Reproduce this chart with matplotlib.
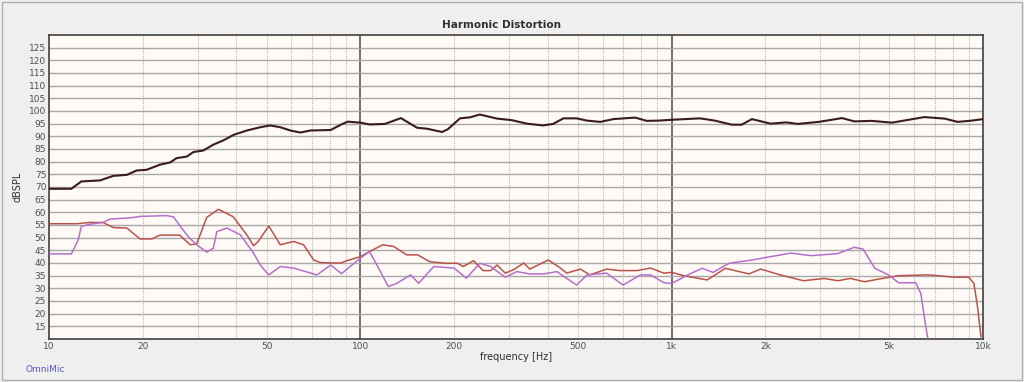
import matplotlib
matplotlib.use('Agg')
import matplotlib.pyplot as plt
from matplotlib.ticker import FixedLocator, NullFormatter, NullLocator
from matplotlib.patches import Rectangle

# fundamental
fund_f = [10, 11.8, 12.7, 14.6, 14.9, 16.1, 17.8, 19.1, 20.6, 22.7, 24.5, 25.7, 27.7,
          29.1, 31.3, 33.7, 36.3, 39.2, 43.2, 47.7, 51.3, 55.3, 59.6, 64.2, 69.1, 80.3,
          86.6, 91, 100, 107, 120, 135, 152, 164, 183, 191, 209, 225, 242, 275, 306,
          343, 386, 416, 449, 495, 535, 590, 650, 763, 832, 906, 990, 1233, 1376, 1560,
          1678, 1810, 2079, 2330, 2545, 2964, 3525, 3860, 4391, 5101, 6480, 7530, 8290,
          9200, 10000]
fund_db = [69.3, 69.3, 72.2, 72.6, 73.0, 74.4, 74.8, 76.5, 76.8, 78.8, 79.7, 81.4, 82.0,
           83.8, 84.4, 86.7, 88.4, 90.6, 92.3, 93.6, 94.3, 93.6, 92.3, 91.5, 92.3, 92.5,
           94.6, 95.8, 95.4, 94.7, 94.9, 97.2, 93.4, 93.0, 91.7, 92.8, 97.1, 97.5, 98.6,
           97.0, 96.4, 95.0, 94.3, 94.9, 97.1, 97.1, 96.2, 95.7, 96.8, 97.4, 96.1, 96.2,
           96.5, 97.1, 96.2, 94.6, 94.6, 96.8, 95.0, 95.5, 94.9, 95.7, 97.2, 95.9, 96.1,
           95.4, 97.6, 97.0, 95.7, 96.2, 96.8]

# 2nd harmonic
h2_f = [10, 12.3, 13.5, 14.9, 16.1, 17.8, 19.6, 21.4, 22.7, 26.3, 28.4, 29.8, 32.1,
        35.0, 39, 43.2, 45.4, 47, 50.8, 55.3, 61, 65.7, 70.8, 74.2, 82, 86.6, 90.5, 100,
        107, 118, 128, 141, 153, 167, 188, 205, 214, 231, 248, 262, 275, 292, 311, 335,
        350, 402, 439, 460, 509, 546, 618, 682, 772, 856, 944, 1000, 1094, 1300, 1488,
        1770, 1932, 2233, 2651, 3090, 3415, 3755, 4160, 4600, 5355, 6680, 8100, 9000,
        9350, 9600, 9850]
h2_db = [55.5, 55.5, 56.0, 56.0, 54.0, 53.8, 49.5, 49.5, 51.0, 51.0, 47.2, 47.5, 58.0,
         61.2, 58.3, 51.1, 46.8, 48.5, 54.6, 47.2, 48.5, 47.2, 41.2, 40.2, 40.0, 40.0, 40.9, 42.5,
         44.5, 47.2, 46.5, 43.2, 43.2, 40.5, 39.9, 39.9, 38.6, 40.9, 37.0, 37.0, 39.2,
         36.0, 37.4, 40.0, 37.6, 41.2, 38.0, 36.0, 37.6, 35.3, 37.6, 37.0, 37.0, 38.0,
         36.0, 36.3, 35.0, 33.3, 37.9, 35.7, 37.6, 35.3, 33.0, 33.9, 33.0, 33.9, 32.6,
         33.6, 35.0, 35.3, 34.4, 34.4, 31.9, 22.8, 10.9]

# 3rd harmonic
h3_f = [10, 11.8, 12.4, 12.7, 13.5, 14.9, 15.7, 16.9, 18.2, 19.6, 23.9, 25.1, 26.7,
        28.1, 29.8, 32.1, 33.7, 34.6, 37.3, 41.2, 45.4, 47.7, 50.8, 55.3, 61, 72.5,
        80.3, 87, 100, 107, 113, 123, 131, 145, 154, 172, 200, 219, 242, 262, 292,
        318, 350, 388, 428, 495, 535, 618, 698, 794, 856, 944, 1000, 1126, 1252, 1359,
        1529, 1812, 2079, 2414, 2800, 3415, 3860, 4117, 4496, 4970, 5355, 6078, 6313,
        6550, 6700]
h3_db = [43.6, 43.6, 49.0, 54.4, 55.3, 56.0, 57.3, 57.6, 57.8, 58.4, 58.7, 58.2, 53.7,
         50.2, 47.2, 44.3, 45.8, 52.4, 53.8, 51.1, 43.9, 39.2, 35.3, 38.6, 38.0, 35.3,
         39.2, 35.8, 41.9, 44.5, 39.2, 30.7, 32.0, 35.3, 32.0, 38.6, 38.0, 34.0, 39.9,
         38.6, 34.4, 36.6, 35.7, 35.7, 36.6, 31.3, 35.3, 36.0, 31.3, 35.3, 35.3, 32.2,
         31.9, 35.3, 37.9, 36.3, 39.9, 41.2, 42.5, 43.9, 42.9, 43.7, 46.2, 45.5, 37.9,
         35.3, 32.2, 32.2, 28.0, 14.9, 8.0]

xticks = [10, 20, 50, 100, 200, 500, 1000, 2000, 5000, 10000]
xticklabels = ['10', '20', '50', '100', '200', '500', '1k', '2k', '5k', '10k']
yticks = list(range(15, 130, 5))

fig = plt.figure(figsize=(10.24, 3.82), dpi=100)
fig.patch.set_facecolor('#efefef')
fig.patches.append(Rectangle((0.002, 0.004), 0.996, 0.99, transform=fig.transFigure,
                             fill=False, edgecolor='#b0b0b0', lw=1))

ax = fig.add_axes([49 / 1024, 1 - 339 / 382, 934 / 1024, 304 / 382])
ax.set_facecolor('#fffaf5')
ax.set_xscale('log')
ax.set_xlim(10, 10000)
ax.set_ylim(10, 130)

# grid
minor = [m * d for d in (10, 100, 1000) for m in range(2, 10)]
for x in minor:
    ax.axvline(x, color='#b8b8b8', lw=0.8, ls=(0, (1, 1)), zorder=1)
for x in (100, 1000):
    ax.axvline(x, color='#6e6e6e', lw=1.4, zorder=1)
for y in yticks:
    ax.axhline(y, color='#a8a8a8', lw=1.0, zorder=1)

ax.plot(fund_f, fund_db, color='#3a1c1c', lw=1.5, zorder=4)
ax.plot(h2_f, h2_db, color='#b9534a', lw=1.1, zorder=3)
ax.plot(h3_f, h3_db, color='#b36fcc', lw=1.1, zorder=3)

ax.xaxis.set_major_locator(FixedLocator(xticks))
ax.set_xticklabels(xticklabels)
ax.xaxis.set_minor_locator(NullLocator())
ax.xaxis.set_minor_formatter(NullFormatter())
ax.set_yticks(yticks)
ax.tick_params(axis='both', length=0, labelsize=6.5, colors='#505050', pad=2)

for s in ax.spines.values():
    s.set_color('#404040')
    s.set_linewidth(1.2)

ax.set_xlabel('frequency [Hz]', fontsize=7, color='#303030', labelpad=1)
ax.set_ylabel('dBSPL', fontsize=7, color='#303030')
ax.yaxis.set_label_coords(-0.028, 0.5)
fig.text(501 / 1024, 1 - 25 / 382, 'Harmonic Distortion', ha='center', va='center',
         fontsize=7.5, fontweight='bold', color='#303030')
fig.text(25 / 1024, 1 - 369 / 382, 'OmniMic', ha='left', va='center',
         fontsize=6.5, color='#5555cc')

fig.savefig('out.png', dpi=100, facecolor=fig.get_facecolor())
